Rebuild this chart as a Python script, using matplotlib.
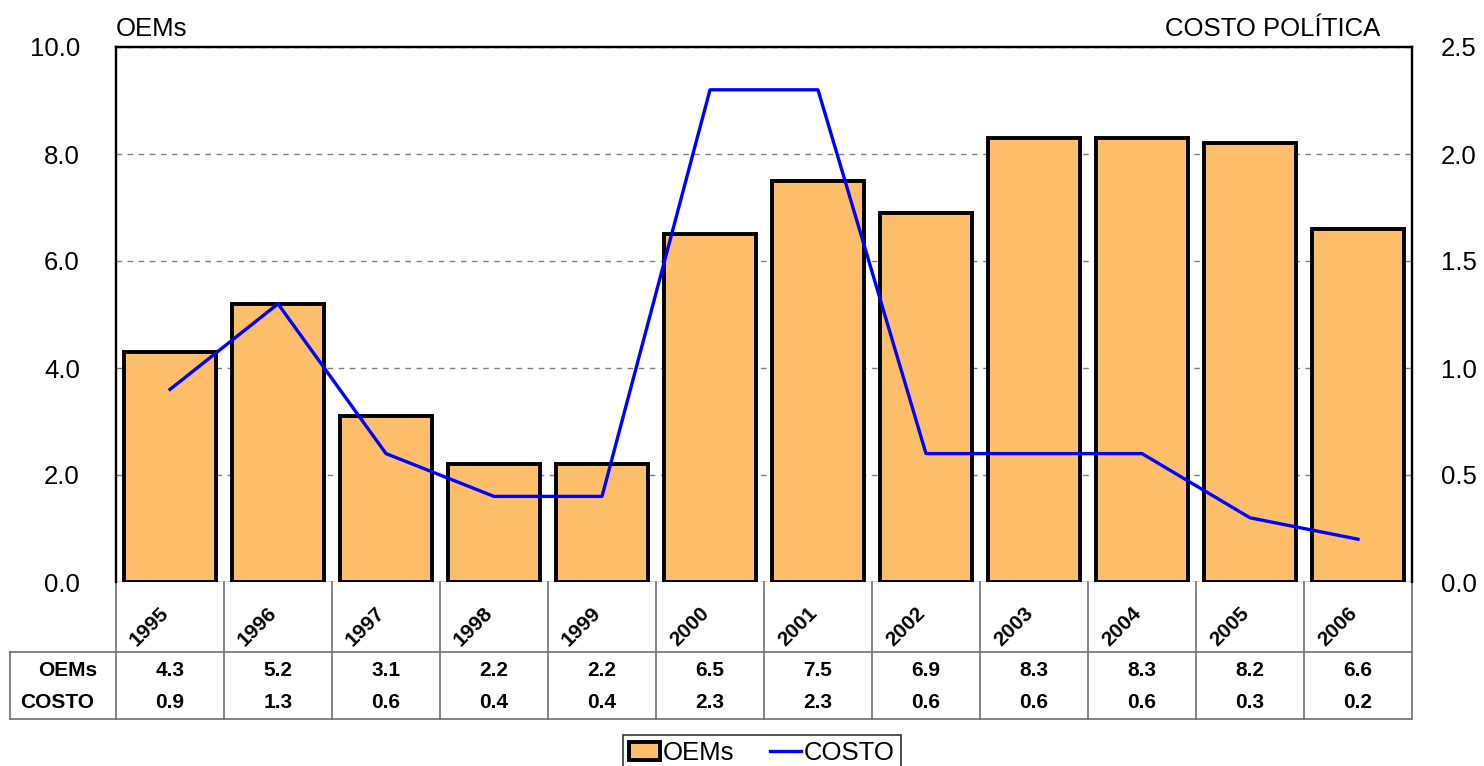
import numpy as np
import matplotlib
matplotlib.use('Agg')
import matplotlib.pyplot as plt
from matplotlib.transforms import blended_transform_factory
from matplotlib.lines import Line2D
from matplotlib.patches import Patch

plt.rcParams['font.family'] = ['Liberation Sans', 'DejaVu Sans']

years = ['1995', '1996', '1997', '1998', '1999', '2000',
         '2001', '2002', '2003', '2004', '2005', '2006']
oems = [4.3, 5.2, 3.1, 2.2, 2.2, 6.5, 7.5, 6.9, 8.3, 8.3, 8.2, 6.6]
costo = [0.9, 1.3, 0.6, 0.4, 0.4, 2.3, 2.3, 0.6, 0.6, 0.6, 0.3, 0.2]
oems_ticks = [0.0, 2.0, 4.0, 6.0, 8.0, 10.0]
costo_ticks = [0.0, 0.5, 1.0, 1.5, 2.0, 2.5]

W, H = 1484, 766
fig = plt.figure(figsize=(W / 100, H / 100), dpi=100)
ax = fig.add_axes([116 / W, 1 - 582 / H, (1412 - 116) / W, (582 - 47) / H])
ax2 = ax.twinx()

x = np.arange(len(years))
ax.bar(x, oems, width=0.86, color='#FFBF6A', edgecolor='black', linewidth=2.8, zorder=3)
ax2.plot(x, costo, color='#0000FF', linewidth=2.4, zorder=4)

ax.set_xlim(-0.5, len(years) - 0.5)
ax.set_ylim(0, 10)
ax2.set_ylim(0, 2.5)
ax.set_yticks(oems_ticks)
ax.set_yticklabels([f'{v:.1f}' for v in oems_ticks])
ax2.set_yticks(costo_ticks)
ax2.set_yticklabels([f'{v:.1f}' for v in costo_ticks])
ax.set_xticks([])
ax.tick_params(axis='y', length=0, pad=26, labelsize=18.5)
ax2.tick_params(axis='y', length=0, pad=21, labelsize=18.5)
ax.yaxis.grid(True, linestyle=(0, (4, 4)), color='#808080', linewidth=1.0, zorder=0)
ax.set_axisbelow(True)
for a in (ax, ax2):
    a.spines['top'].set_linewidth(1.6)
    a.spines['left'].set_linewidth(1.6)
    a.spines['right'].set_linewidth(1.6)
    a.spines['bottom'].set_visible(False)
ax.axhline(0, color='#808080', linewidth=1.0, zorder=2)

ax.text(0, 1.012, 'OEMs', transform=ax.transAxes, ha='left', va='bottom', fontsize=18.5)
ax.text(1 - 32 / 1296, 1.012, 'COSTO POLÍTICA', transform=ax.transAxes,
        ha='right', va='bottom', fontsize=18.5)

# data table under the chart
tr = blended_transform_factory(ax.transData, ax.transAxes)
ph = 535.0
y_year = -(652 - 582) / ph
y_end = -(719 - 582) / ph
x_left = -0.5 - (116 - 10) / 108.0
lc = '#707070'
for i in range(len(years) + 1):
    ax.add_line(Line2D([i - 0.5, i - 0.5], [0, y_end], transform=tr, color=lc,
                       linewidth=1.2, clip_on=False))
ax.add_line(Line2D([x_left, x_left], [y_year, y_end], transform=tr, color=lc,
                   linewidth=1.2, clip_on=False))
for yy in (y_year, y_end):
    ax.add_line(Line2D([x_left, len(years) - 0.5], [yy, yy], transform=tr, color=lc,
                       linewidth=1.2, clip_on=False))

y_oems = -(670 - 582) / ph
y_costo = -(703 - 582) / ph
for i, yr in enumerate(years):
    ax.text(i - 0.19, -(627 - 582) / ph, yr, transform=tr, rotation=45,
            ha='center', va='center', fontsize=15, fontweight='bold')
    ax.text(i, y_oems, f'{oems[i]:.1f}', transform=tr, ha='center', va='center',
            fontsize=15, fontweight='bold')
    ax.text(i, y_costo, f'{costo[i]:.1f}', transform=tr, ha='center', va='center',
            fontsize=15, fontweight='bold')
ax.text(-0.5 - 19 / 108, y_oems, 'OEMs', transform=tr, ha='right', va='center',
        fontsize=15, fontweight='bold')
ax.text(-0.5 - 22 / 108, y_costo, 'COSTO', transform=tr, ha='right', va='center',
        fontsize=15, fontweight='bold')

handles = [Patch(facecolor='#FFBF6A', edgecolor='black', linewidth=2.8),
           Line2D([0], [0], color='#0000FF', linewidth=2.4)]
leg = fig.legend(handles, ['OEMs', 'COSTO'], loc='center', ncol=2,
                 bbox_to_anchor=(762 / W, 1 - 753 / H), fontsize=18.5, frameon=True,
                 fancybox=False, edgecolor='black', handlelength=1.2, handletextpad=0.1,
                 columnspacing=1.4, borderpad=0.25)
leg.get_frame().set_linewidth(1.2)

fig.savefig('out.png', dpi=100)
